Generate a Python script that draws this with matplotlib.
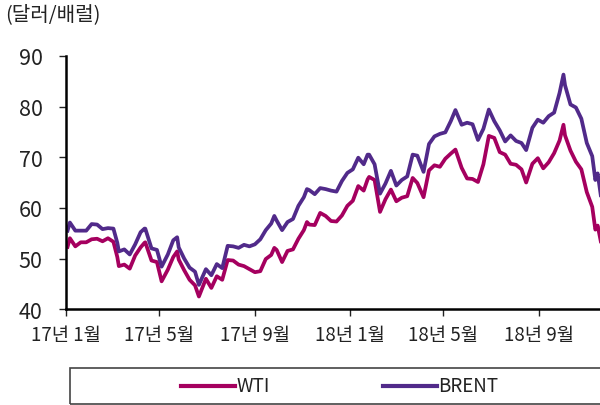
import pandas as pd
import numpy as np
import matplotlib
matplotlib.use("Agg")
from matplotlib import pyplot as plt
import matplotlib.dates as mdates
from matplotlib.lines import Line2D
from matplotlib.patches import Rectangle

plt.rcParams['font.family'] = ['Noto Sans CJK KR', 'DejaVu Sans']

# weekly closes plus a few daily extremes, 2017-01 ~ 2018-11
dates = [
    "2017-01-03", "2017-01-06", "2017-01-13", "2017-01-20", "2017-01-27", "2017-02-03",
    "2017-02-10", "2017-02-17", "2017-02-24", "2017-03-03", "2017-03-08", "2017-03-10",
    "2017-03-17", "2017-03-24", "2017-03-31", "2017-04-07", "2017-04-12", "2017-04-13",
    "2017-04-21", "2017-04-28", "2017-05-04", "2017-05-12", "2017-05-19", "2017-05-24",
    "2017-05-26", "2017-06-02", "2017-06-09", "2017-06-16", "2017-06-21", "2017-06-30",
    "2017-07-07", "2017-07-14", "2017-07-21", "2017-07-28", "2017-08-04", "2017-08-11",
    "2017-08-18", "2017-08-25", "2017-09-01", "2017-09-08", "2017-09-15", "2017-09-22",
    "2017-09-26", "2017-09-29", "2017-10-06", "2017-10-13", "2017-10-20", "2017-10-27",
    "2017-11-03", "2017-11-07", "2017-11-10", "2017-11-17", "2017-11-24", "2017-12-01",
    "2017-12-08", "2017-12-15", "2017-12-22", "2017-12-29",
    "2018-01-05", "2018-01-12", "2018-01-19", "2018-01-24", "2018-01-26", "2018-02-02",
    "2018-02-09", "2018-02-16", "2018-02-23", "2018-03-02", "2018-03-09", "2018-03-16",
    "2018-03-23", "2018-03-29", "2018-04-06", "2018-04-13", "2018-04-20", "2018-04-27",
    "2018-05-04", "2018-05-11", "2018-05-17", "2018-05-25", "2018-06-01", "2018-06-08",
    "2018-06-15", "2018-06-22", "2018-06-29", "2018-07-06", "2018-07-13", "2018-07-20",
    "2018-07-27", "2018-08-03", "2018-08-10", "2018-08-16", "2018-08-24", "2018-08-31",
    "2018-09-07", "2018-09-14", "2018-09-21", "2018-09-28", "2018-10-03", "2018-10-05",
    "2018-10-12", "2018-10-19", "2018-10-26", "2018-11-02", "2018-11-09", "2018-11-13",
    "2018-11-16", "2018-11-20",
]
brent = [
    55.5, 57.1, 55.5, 55.5, 55.5, 56.8, 56.7, 55.8, 56.0, 55.9, 53.1, 51.4,
    51.8, 50.8, 52.8, 55.2, 55.9, 55.9, 52.0, 51.7, 48.4, 50.8, 53.6, 54.2,
    52.2, 50.0, 48.2, 47.4, 44.8, 47.9, 46.7, 48.9, 48.1, 52.5, 52.4, 52.1,
    52.7, 52.4, 52.8, 53.8, 55.6, 56.9, 58.4, 57.5, 55.6, 57.2, 57.8, 60.4,
    62.1, 63.7, 63.5, 62.7, 63.9, 63.7, 63.4, 63.2, 65.3, 66.9,
    67.6, 69.9, 68.6, 70.5, 70.5, 68.6, 62.8, 64.8, 67.3, 64.4, 65.5, 66.2,
    70.5, 70.3, 67.1, 72.6, 74.1, 74.6, 74.9, 77.1, 79.3, 76.4, 76.8, 76.5,
    73.4, 75.6, 79.4, 77.1, 75.3, 73.1, 74.3, 73.2, 72.8, 71.4, 75.8, 77.4,
    76.8, 78.1, 78.8, 82.7, 86.3, 84.2, 80.4, 79.8, 77.6, 72.8, 70.2, 65.5,
    66.8, 62.5,
]
wti = [
    52.3, 54.0, 52.4, 53.2, 53.2, 53.8, 53.9, 53.4, 54.0, 53.3, 50.3, 48.5,
    48.8, 48.0, 50.6, 52.2, 53.1, 53.2, 49.6, 49.3, 45.5, 47.8, 50.3, 51.4,
    49.8, 47.7, 45.8, 44.7, 42.5, 46.0, 44.2, 46.5, 45.8, 49.7, 49.6, 48.8,
    48.5, 47.9, 47.3, 47.5, 49.9, 50.7, 52.1, 51.7, 49.3, 51.5, 51.8, 53.9,
    55.6, 57.2, 56.7, 56.6, 59.0, 58.4, 57.4, 57.3, 58.5, 60.4,
    61.4, 64.3, 63.4, 65.6, 66.1, 65.5, 59.2, 61.7, 63.6, 61.3, 62.0, 62.3,
    65.9, 64.9, 62.1, 67.4, 68.4, 68.1, 69.7, 70.7, 71.5, 67.9, 65.8, 65.7,
    65.1, 68.6, 74.2, 73.8, 71.0, 70.5, 68.7, 68.5, 67.6, 65.0, 68.7, 69.8,
    67.8, 69.0, 70.8, 73.3, 76.4, 74.3, 71.3, 69.1, 67.6, 63.1, 60.2, 55.7,
    56.5, 53.4,
]
tick_dates = ["2017-01-01", "2017-05-01", "2017-09-01", "2018-01-01", "2018-05-01", "2018-09-01"]
tick_labels = ["17년 1월", "17년 5월", "17년 9월", "18년 1월", "18년 5월", "18년 9월"]

x = pd.to_datetime(dates)
wti_color = "#A5005F"
brent_color = "#512A8A"

fig = plt.figure(figsize=(6, 4.06), dpi=100)
ax = fig.add_axes([0.11, 0.236, 0.89, 0.624])
ax.plot(x, wti, color=wti_color, lw=2.7, solid_joinstyle="round")
ax.plot(x, brent, color=brent_color, lw=2.7, solid_joinstyle="round")

ax.set_ylim(40, 90)
ax.set_yticks([40, 50, 60, 70, 80, 90])
ax.set_xlim(pd.Timestamp("2017-01-01"), pd.Timestamp("2018-11-19"))
ax.set_xticks(pd.to_datetime(tick_dates))
ax.set_xticklabels(tick_labels)
ax.tick_params(axis="y", labelsize=15.5, length=5, width=1, pad=12, colors="#222222")
ax.tick_params(axis="x", labelsize=13.5, length=5, width=1, pad=6, colors="#222222")
ax.spines["top"].set_visible(False)
ax.spines["right"].set_visible(False)
ax.spines["left"].set_linewidth(1.8)
ax.spines["bottom"].set_linewidth(1.8)

fig.text(0.008, 0.963, "(달러/배럴)", fontsize=14.5, color="#222222", va="center", ha="left")

# legend box along the bottom
fig.patches.append(Rectangle((0.117, 0.003), 0.89, 0.088, transform=fig.transFigure,
                             fill=False, edgecolor="#444444", lw=1.2))
fig.lines.append(Line2D([0.302, 0.392], [0.047, 0.047], transform=fig.transFigure,
                        color=wti_color, lw=3))
fig.text(0.395, 0.047, "WTI", fontsize=13.5, color="#222222", va="center", ha="left")
fig.lines.append(Line2D([0.638, 0.728], [0.047, 0.047], transform=fig.transFigure,
                        color=brent_color, lw=3))
fig.text(0.731, 0.047, "BRENT", fontsize=13.5, color="#222222", va="center", ha="left")

fig.savefig("out.png", dpi=100)
